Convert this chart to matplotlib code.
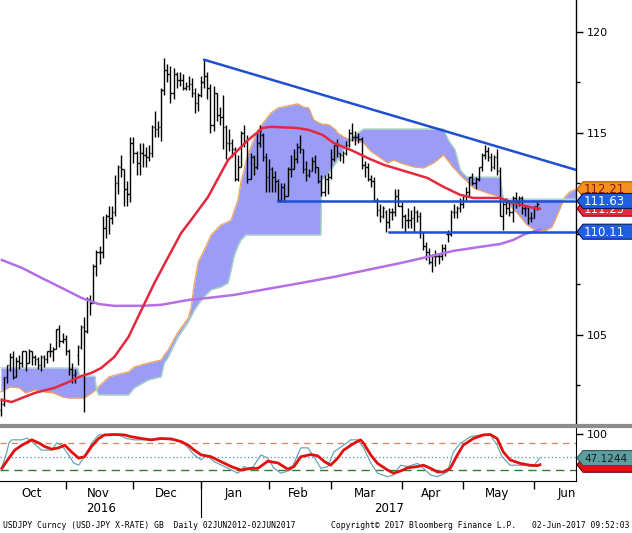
import numpy as np
import pandas as pd
import matplotlib
matplotlib.use("Agg")
import matplotlib.pyplot as plt
from matplotlib.patches import Polygon
from matplotlib.lines import Line2D
from matplotlib.transforms import IdentityTransform, blended_transform_factory

# ---- daily USDJPY bars, 03 Oct 2016 - 02 Jun 2017 (business days) ----
dates = pd.bdate_range("2016-10-03", "2017-06-02")

opens = [101.3, 101.6, 102.9, 103.5, 103.9, 102.9, 103.7, 103.6, 104.2, 103.6, 104.2, 103.9, 103.8, 103.5, 103.9, 103.8, 104.2, 104.2, 104.3, 105.3, 104.7,
         104.8, 104.2, 103.3, 103.0, 104.0, 104.4, 105.4, 105.2, 106.8, 106.6, 108.4, 109.1, 109.1, 110.3, 110.9, 110.8, 111.1, 112.5, 113.3, 113.2, 112.2, 112.0,
         114.5, 114.0, 113.5, 114.0, 113.9, 113.8, 114.0, 115.3, 115.2, 115.3, 117.1, 118.1, 117.9, 117.0, 117.9, 117.6, 117.6, 117.2, 117.3, 117.4, 117.0, 116.5,
         116.9, 117.5, 117.8, 117.2, 115.4, 117.0, 115.9, 115.8, 115.3, 114.5, 114.5, 114.2, 112.7, 113.3, 115.0, 114.6, 112.7, 113.8, 113.3, 114.5, 114.9, 113.8,
         112.8, 113.2, 112.8, 112.6, 111.7, 112.3, 111.9, 113.2, 113.2, 113.7, 114.3, 114.2, 113.2, 112.9, 113.1, 113.6, 113.3, 112.6, 112.1, 112.7,
         112.8, 113.7, 114.4, 114.0, 113.9, 114.0, 114.4, 115.0, 114.8, 114.8, 114.7, 113.4, 113.3, 112.7, 112.6, 111.7, 111.2, 110.9, 111.1, 110.6, 111.1, 111.1, 111.9,
         111.4, 110.9, 110.7, 110.7, 110.8, 111.1, 110.9, 110.1, 109.4, 109.1, 108.6, 108.9, 108.9, 108.9, 109.3, 110.0, 110.0, 111.1, 111.1, 111.3,
         111.5, 111.9, 112.1, 112.8, 112.5, 112.7, 113.3, 113.9, 114.1, 113.8, 113.3, 113.8, 113.1, 110.9, 111.5, 111.3, 111.1, 111.8, 111.6, 111.8, 111.3, 111.3, 110.8,
         110.8, 111.4]
highs = [101.9, 102.9, 103.5, 104.1, 104.2, 103.9, 104.0, 104.2, 104.2, 104.3, 104.2, 104.0, 103.9, 104.0, 104.0, 104.2, 104.6, 104.4, 105.3, 105.5, 105.1,
         105.0, 104.3, 103.6, 103.3, 104.5, 105.5, 105.9, 106.9, 107.0, 108.5, 109.2, 109.4, 110.9, 111.0, 111.4, 111.4, 112.9, 113.4, 113.9, 113.2, 112.6, 114.8,
         114.8, 114.1, 114.5, 114.5, 114.3, 114.4, 115.4, 116.1, 115.6, 117.2, 118.7, 118.4, 118.3, 118.2, 118.0, 118.0, 117.9, 117.5, 117.8, 117.7, 117.2, 117.0,
         117.8, 118.6, 118.0, 117.4, 117.3, 117.0, 116.3, 116.9, 115.4, 115.2, 114.7, 114.3, 113.9, 115.1, 115.4, 114.9, 114.0, 113.9, 115.0, 115.4, 115.0, 114.0,
         113.7, 113.3, 113.1, 112.7, 112.5, 112.5, 113.3, 113.9, 114.2, 114.5, 114.9, 114.2, 113.6, 113.2, 113.8, 113.9, 113.3, 112.9, 112.9, 113.0,
         114.2, 114.4, 114.7, 114.0, 114.1, 114.6, 115.2, 115.5, 115.1, 115.0, 114.8, 113.6, 113.5, 112.9, 112.8, 111.8, 111.5, 111.4, 111.2, 111.3, 111.3, 112.2, 112.2,
         111.6, 111.0, 111.3, 111.2, 111.4, 111.2, 111.1, 110.1, 109.6, 109.3, 109.0, 109.2, 109.0, 109.5, 109.5, 110.2, 111.2, 111.5, 111.4, 111.8,
         112.0, 112.3, 112.8, 113.0, 112.8, 113.3, 114.0, 114.4, 114.3, 114.0, 113.9, 114.2, 113.3, 111.6, 111.8, 111.6, 111.9, 112.1, 111.9, 111.9, 111.4, 111.4, 111.1,
         111.4, 111.6]
lows = [101.0, 101.5, 102.6, 103.2, 102.8, 102.9, 103.3, 103.4, 103.2, 103.6, 103.5, 103.5, 103.3, 103.2, 103.4, 103.6, 103.9, 103.7, 104.3, 104.4, 104.6,
        104.0, 103.0, 102.6, 102.6, 103.5, 104.3, 101.2, 105.1, 106.0, 106.6, 107.9, 108.5, 108.8, 109.8, 110.0, 110.5, 110.9, 112.0, 112.8, 111.4, 111.4, 111.6,
        113.5, 112.9, 112.9, 113.3, 113.3, 113.6, 113.8, 114.8, 114.8, 114.6, 116.9, 117.5, 116.5, 116.7, 117.2, 117.3, 117.1, 117.1, 117.1, 116.8, 116.0, 116.1,
        116.8, 117.2, 116.7, 115.0, 115.1, 115.6, 115.4, 114.2, 113.7, 114.1, 113.8, 112.6, 112.6, 113.3, 114.3, 112.5, 112.7, 112.9, 113.2, 114.3, 113.6, 112.1,
        112.1, 112.1, 112.1, 111.6, 111.6, 111.6, 111.9, 112.8, 113.2, 113.5, 114.0, 113.0, 112.6, 112.8, 113.1, 113.0, 112.5, 111.9, 111.9, 112.0,
        112.7, 113.6, 113.8, 113.6, 113.5, 113.9, 114.3, 114.6, 114.4, 114.5, 113.2, 112.8, 112.6, 112.3, 111.6, 110.9, 110.6, 110.8, 110.1, 110.3, 110.7, 110.9, 111.4,
        110.3, 110.1, 110.3, 110.3, 110.1, 110.6, 109.8, 109.2, 108.7, 108.5, 108.1, 108.4, 108.5, 108.7, 108.9, 109.6, 109.9, 110.8, 110.8, 111.1,
        111.3, 111.7, 111.9, 112.4, 112.2, 112.6, 113.1, 113.7, 113.6, 113.1, 113.2, 112.9, 110.9, 110.2, 111.0, 110.9, 110.6, 111.3, 111.4, 111.0, 110.9, 110.5, 110.6,
        110.8, 111.2]
closes = [101.6, 102.9, 103.5, 103.9, 102.9, 103.7, 103.6, 104.2, 103.6, 104.2, 103.9, 103.8, 103.5, 103.9, 103.8, 104.2, 104.2, 104.3, 105.3, 104.7, 104.8,
          104.2, 103.3, 103.0, 103.1, 104.4, 105.4, 105.2, 106.8, 106.6, 108.4, 109.1, 109.1, 110.3, 110.9, 110.8, 111.1, 112.5, 113.3, 113.2, 112.2, 112.0, 114.5,
          114.0, 113.5, 114.0, 113.9, 113.8, 114.0, 115.3, 115.2, 115.3, 117.1, 118.1, 117.9, 117.0, 117.9, 117.6, 117.6, 117.2, 117.3, 117.4, 117.0, 116.5, 116.9,
          117.5, 117.8, 117.2, 115.4, 117.0, 115.9, 115.8, 115.3, 114.5, 114.5, 114.2, 112.7, 113.3, 115.0, 114.6, 112.7, 113.8, 113.3, 114.5, 115.1, 113.8, 112.8,
          113.2, 112.8, 112.6, 111.7, 112.3, 111.9, 113.2, 113.2, 113.7, 114.3, 114.2, 113.2, 112.9, 113.1, 113.6, 113.3, 112.6, 112.1, 112.7, 112.8,
          113.7, 114.4, 114.0, 113.9, 114.0, 114.4, 115.0, 114.8, 114.8, 114.7, 113.4, 113.3, 112.7, 112.6, 111.7, 111.2, 110.9, 111.3, 110.6, 111.1, 111.1, 111.9, 111.4,
          110.9, 110.7, 110.7, 110.8, 111.1, 110.9, 110.1, 109.4, 109.1, 108.6, 108.9, 108.9, 108.9, 109.3, 109.1, 110.0, 111.1, 111.1, 111.3, 111.5,
          111.9, 112.1, 112.8, 112.5, 112.7, 113.3, 113.9, 114.1, 113.8, 113.3, 113.8, 113.1, 110.9, 111.5, 111.3, 111.1, 111.8, 111.6, 111.8, 111.3, 111.3, 110.8, 110.8,
          111.4, 111.5]

# ---- indicators, sampled by trading-day number (0 = 03 Oct 2016) ----
ma50_day = [0.3, 3.5, 11.0, 17.4, 22.0, 26.2, 29.4, 32.6, 36.8, 41.4, 45.6, 49.8, 54.3, 58.5, 61.7, 67.2, 73.7, 80.2, 85.0, 87.6,
            95.7, 99.9, 104.4, 108.0, 113.5, 119.0, 124.2, 129.7, 138.4, 143.6, 149.1, 153.3, 162.0, 166.2, 172.7, 174.9]
ma50_val = [101.78, 101.68, 102.13, 102.38, 102.67, 102.97, 103.12, 103.37, 103.91, 104.90, 106.24, 107.57, 108.86, 110.05, 110.69, 111.83,
            113.66, 114.65, 115.25, 115.30, 115.25, 115.15, 114.90, 114.50, 114.16, 113.76, 113.42, 113.17, 112.77, 112.33, 111.93, 111.78,
            111.78, 111.53, 111.29, 111.25]
ma200_day = [0.3, 6.8, 13.2, 19.7, 26.2, 31.7, 36.8, 45.6, 52.0, 60.8, 67.2, 75.6, 86.6, 97.3, 108.0, 119.0, 129.7, 138.4, 146.8,
             155.5, 162.0, 166.2, 170.1, 174.9]
ma200_val = [108.71, 108.32, 107.82, 107.33, 106.83, 106.53, 106.44, 106.44, 106.49, 106.73, 106.83, 106.98, 107.28, 107.57, 107.87,
             108.22, 108.56, 108.86, 109.16, 109.36, 109.50, 109.70, 110.00, 110.20]

cloud_day = [0, 3, 6, 8, 11, 14, 17, 20, 22, 25, 25.5, 27, 29.5, 30.5, 31, 31.7, 32.6, 35, 38, 41.4, 43.3, 47.8, 52, 53, 54.3, 56.2,
             57.5, 60.8, 61.7, 62.7, 64, 66, 68.2, 71.4, 73.7, 74.7, 75.6, 76.9, 77.9, 78.9, 79.5, 81.1, 83.4, 85.3, 87.6, 89.9, 93.1,
             96.3, 98, 99.9, 101.5, 103.8, 104.1, 106.4, 107, 108.6, 109.3, 111.2, 113.5, 115.8, 117.7, 120, 123.2, 125.5, 127.4, 129.7,
             133.9, 137.1, 140.3, 143.6, 145.2, 146.8, 147.4, 149.1, 150, 151.3, 153.3, 157.8, 162, 163, 164.3, 167.5, 170.7, 173.3,
             176.6, 178.8, 180.8, 183, 184.6, 186.6]
span_a = [102.18, 102.43, 102.38, 102.13, 102.28, 102.18, 102.13, 101.93, 101.88, 101.88, 101.88, 101.88, 102.13, 102.25, 102.28,
          102.45, 102.57, 102.92, 103.05, 103.17, 103.42, 103.61, 103.76, 104.01, 104.26, 104.80, 105.15, 105.84, 106.34, 107.48, 108.61,
          109.21, 109.95, 110.45, 110.60, 110.69, 111.10, 111.68, 112.60, 113.17, 113.60, 114.31, 115.15, 115.54, 115.99, 116.24, 116.34,
          116.44, 116.29, 116.24, 115.64, 115.45, 115.44, 115.40, 115.35, 115.15, 115.00, 114.80, 114.65, 114.60, 114.50, 114.10, 113.76,
          113.51, 113.66, 113.51, 113.32, 113.27, 113.51, 113.91, 113.60, 113.27, 113.20, 112.90, 112.77, 112.60, 112.28, 112.03, 111.83,
          111.70, 111.53, 111.04, 110.45, 110.20, 110.15, 110.35, 111.04, 111.83, 112.08, 112.21]
span_b = [103.37, 103.37, 103.37, 103.37, 103.37, 103.37, 103.37, 103.37, 103.37, 103.37, 102.97, 102.97, 102.97, 102.97, 102.28,
          102.03, 102.03, 102.03, 102.03, 102.03, 102.38, 102.77, 102.92, 103.61, 103.90, 104.50, 104.90, 105.64, 105.90, 106.20, 106.50,
          106.90, 107.23, 107.38, 107.57, 108.20, 108.86, 109.40, 109.70, 109.85, 109.95, 109.95, 109.95, 109.95, 109.95, 109.95, 109.95,
          109.95, 109.95, 109.95, 109.95, 109.95, 112.67, 113.00, 113.17, 113.50, 113.66, 114.16, 114.65, 115.00, 115.20, 115.20, 115.20,
          115.20, 115.20, 115.20, 115.20, 115.20, 115.20, 115.20, 114.65, 114.30, 114.16, 113.17, 113.00, 112.82, 112.82, 112.82, 112.82,
          111.73, 111.73, 111.73, 111.73, 111.73, 111.73, 111.73, 111.73, 111.73, 111.73, 111.73]

stoch_day = [0.3, 2.6, 4.5, 6.8, 10.0, 12.3, 14.2, 16.5, 18.7, 20.7, 22.9, 25.2, 27.1, 29.4, 31.7, 33.6, 36.8, 40.1, 42.3, 45.6,
             48.8, 52.0, 55.3, 58.5, 60.8, 62.7, 65.0, 68.2, 71.4, 74.7, 77.9, 81.1, 83.4, 86.6, 89.9, 93.1, 95.1, 97.3, 100.6, 102.8,
             104.8, 107.0, 109.3, 111.2, 114.5, 116.7, 117.7, 120.0, 122.2, 125.5, 127.4, 129.7, 131.9, 135.2, 137.1, 139.4, 141.6, 143.6,
             145.8, 148.1, 150.0, 153.3, 156.5, 158.8, 161.0, 163.0, 165.2, 168.5, 171.7, 174.0, 174.9]
stoch_slow = [24, 47, 65, 76, 88, 81, 73, 67, 70, 76, 61, 47, 50, 73, 91, 99, 100, 99, 95, 91, 88, 91, 90, 84, 76, 65, 54, 50, 39,
              28, 20, 24, 24, 40, 36, 22, 28, 50, 55, 52, 40, 31, 47, 65, 80, 88, 80, 54, 35, 20, 13, 18, 25, 28, 31, 24, 16, 16, 24,
              54, 76, 91, 99, 100, 91, 61, 43, 35, 31, 30, 32]
fast_day = [0.3, 1.9, 2.6, 3.5, 6.8, 8.4, 10.0, 12.3, 13.2, 16.5, 18.1, 19.7, 22.0, 23.6, 25.2, 27.1, 29.4, 31.7, 34.9, 38.1, 40.7,
            43.3, 47.8, 51.1, 55.3, 58.5, 60.8, 62.7, 65.0, 66.6, 69.2, 73.7, 76.9, 78.9, 81.1, 84.4, 86.6, 88.6, 90.9, 94.1, 97.3,
            99.6, 102.8, 103.8, 106.1, 108.0, 111.2, 113.5, 115.8, 117.7, 120.0, 122.2, 125.5, 127.4, 129.7, 131.9, 135.2, 137.1, 139.4,
            141.6, 144.9, 146.8, 149.1, 152.3, 156.5, 158.8, 161.0, 162.6, 165.2, 169.4, 172.7, 174.9]
stoch_fast = [26, 60, 81, 88, 88, 92, 84, 70, 65, 65, 81, 76, 54, 36, 31, 50, 80, 99, 100, 100, 91, 88, 88, 92, 88, 84, 70, 54,
              43, 54, 39, 24, 13, 28, 20, 54, 47, 24, 13, 20, 70, 70, 36, 24, 28, 61, 76, 88, 88, 70, 36, 13, 5, 9, 31, 28, 35, 24, 9,
              5, 16, 61, 80, 95, 100, 99, 76, 50, 31, 31, 28, 47.1244]

trend_day = [66, 186.6]
trend_val = [118.62, 113.17]
support_val = [111.63, 110.11]
support_from = [90, 126]

W, H = 632, 533
fig = plt.figure(figsize=(W / 100, H / 100), dpi=100)
ax = fig.add_axes([0, 1 - 423 / H, 576 / W, 423 / H])
osc = fig.add_axes([0, 1 - 481 / H, 576 / W, 53 / H])

x = np.arange(len(closes))
xmax = 186.6

# cloud
ax.fill_between(cloud_day, span_a, span_b, color="#9a9cf5", lw=0, zorder=1)
ax.plot(cloud_day, span_a, color="#f0a45c", lw=0.9, zorder=1.5)
ax.plot(cloud_day, span_b, color="#a6dcbc", lw=0.9, zorder=1.5)

# OHLC bars
ax.vlines(x, lows, highs, color="k", lw=1.0, zorder=3)
ax.hlines(opens, x - 0.45, x, color="k", lw=1.0, zorder=3)
ax.hlines(closes, x, x + 0.45, color="k", lw=1.0, zorder=3)

ax.plot(ma200_day, ma200_val, color="#b46ee6", lw=1.8, zorder=4)
ax.plot(ma50_day, ma50_val, color="#e5283f", lw=1.8, zorder=4)

blue = "#1f4fd1"
ax.plot(trend_day, trend_val, color=blue, lw=1.8, zorder=5)
for lvl, d0 in zip(support_val, support_from):
    ax.plot([d0, xmax], [lvl, lvl], color=blue, lw=1.8, zorder=5)

ax.set_xlim(-0.3, xmax)
ax.set_ylim(100.64, 121.58)
for s in ["top", "left", "bottom"]:
    ax.spines[s].set_visible(False)
ax.spines["right"].set_linewidth(1.0)
ax.yaxis.tick_right()
ax.set_yticks([105, 110, 115, 120])
ax.set_yticklabels(["105", "", "115", "120"])  # 110 sits under the 110.11 tag
ax.set_yticks([102.5, 107.5, 112.5, 117.5], minor=True)
ax.tick_params(axis="y", which="major", direction="out", length=5, width=1, labelsize=8, pad=3)
ax.tick_params(axis="y", which="minor", direction="out", length=3, width=1)
ax.set_xticks([])

# oscillator panel
osc.axhline(80, color="#e0805c", ls=(0, (5, 4)), lw=0.9)
osc.axhline(50, color="#4a8fb5", ls=(0, (1, 2)), lw=0.9)
osc.axhline(20, color="#2e7d32", ls=(0, (6, 4)), lw=1.0)
osc.plot(fast_day, stoch_fast, color="#6aa5b3", lw=0.9)
osc.plot(stoch_day, stoch_slow, color="#e41010", lw=2.0)
osc.set_xlim(-0.3, xmax)
osc.set_ylim(-4.5, 114.6)
for s in ["top", "left"]:
    osc.spines[s].set_visible(False)
osc.yaxis.tick_right()
osc.set_yticks([100])
osc.tick_params(axis="y", direction="out", length=5, width=1, labelsize=8, pad=3)

month_idx = [i for i in range(1, len(dates)) if dates[i].month != dates[i - 1].month]
starts = [0] + month_idx
centers = [(a + b - 1) / 2 for a, b in zip(starts, month_idx)] + [starts[-1] + 10.5]
osc.set_xticks(month_idx)
osc.set_xticklabels([])
osc.set_xticks(centers, minor=True)
osc.set_xticklabels([dates[s].strftime("%b") for s in starts], minor=True)
osc.tick_params(axis="x", which="major", direction="out", length=6, width=1)
osc.tick_params(axis="x", which="minor", length=0, labelsize=8.5, pad=4)

bt = blended_transform_factory(osc.transData, osc.transAxes)
jan = month_idx[2]
osc.plot([jan, jan], [0, -0.68], transform=bt, clip_on=False, color="k", lw=0.8)
osc.text(jan / 2, -0.51, "2016", transform=bt, ha="center", va="center", fontsize=8.5)
osc.text((jan + xmax) / 2, -0.51, "2017", transform=bt, ha="center", va="center", fontsize=8.5)

# separator between panels
fig.add_artist(Line2D([0, 1], [1 - 425.5 / H] * 2, transform=fig.transFigure, color="#8c8c8c", lw=3.0))

tag_layer = [10]


def tag(axis, value, text, fc, ec, tc, size=8.5):
    yd = axis.transData.transform((0, value))[1]
    x0 = axis.transAxes.transform((1, 0))[0]
    h = 7.5
    z = tag_layer[0]
    tag_layer[0] += 2
    verts = [(x0 + 1, yd), (x0 + 7, yd + h), (W + 5, yd + h), (W + 5, yd - h), (x0 + 7, yd - h)]
    fig.add_artist(Polygon(verts, closed=True, transform=IdentityTransform(), fc=fc, ec=ec, lw=0.8, zorder=z))
    fig.text(x0 + 8, yd - 0.5, text, transform=IdentityTransform(), color=tc, fontsize=size,
             ha="left", va="center", zorder=z + 1)


tag(ax, span_a[-1], "112.21", "#f5901e", "#b05a00", "#8a1a00")
tag(ax, ma50_val[-1], "111.25", "#e5283f", "#8a0010", "white")
tag(ax, support_val[0], "111.63", "#1f5fe0", "#0a1a5a", "white")
tag(ax, support_val[1], "110.11", "#1f5fe0", "#0a1a5a", "white")
tag(osc, stoch_slow[-1], "", "#e41010", "#700000", "white")
tag(osc, stoch_fast[-1], "47.1244", "#5f9ea0", "#2a5a5a", "#102020", size=7.6)

mono = dict(family="DejaVu Sans Mono", fontsize=5.8, va="center")
fig.text(3 / W, 1 - 525 / H, "USDJPY Curncy (USD-JPY X-RATE) GB  Daily 02JUN2012-02JUN2017", ha="left", **mono)
fig.text(331 / W, 1 - 525 / H, "Copyright\u00a9 2017 Bloomberg Finance L.P.", ha="left", **mono)
fig.text(630 / W, 1 - 525 / H, "02-Jun-2017 09:52:03", ha="right", **mono)

fig.savefig("out.png", dpi=100)
